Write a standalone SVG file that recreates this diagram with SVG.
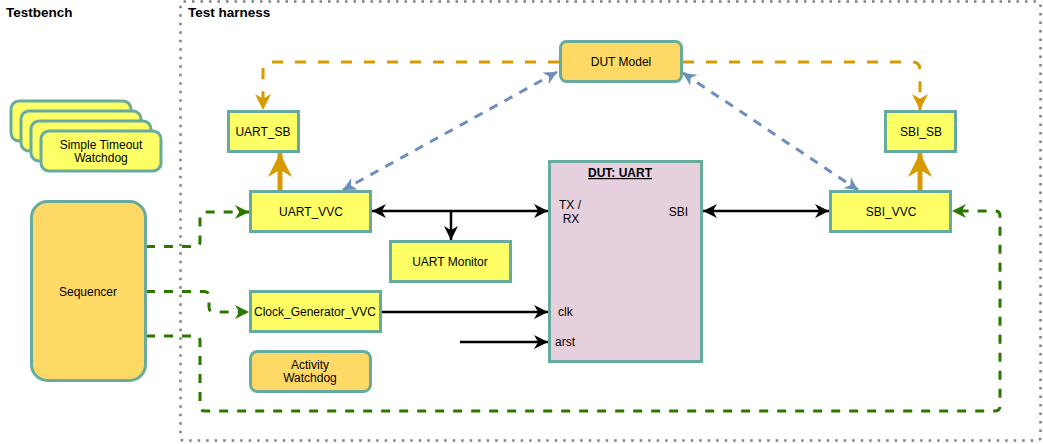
<svg xmlns="http://www.w3.org/2000/svg" width="1043" height="444" viewBox="0 0 1043 444">
<style>
text{font-family:"Liberation Sans",Arial,Helvetica,sans-serif;font-size:12px;fill:#000;text-anchor:middle}
.hdr{font-weight:bold;font-size:13.5px;text-anchor:start}
.y{fill:#FFFF66;stroke:#67AB9F;stroke-width:3}
.o{fill:#FFD966;stroke:#67AB9F;stroke-width:3}
.d{fill:#E6D0DE;stroke:#67AB9F;stroke-width:3}
.blk{fill:none;stroke:#000;stroke-width:2.5}
.grn{fill:none;stroke:#2D7600;stroke-width:3;stroke-dasharray:9 9}
.org{fill:none;stroke:#D79B00;stroke-width:3;stroke-dasharray:11 12}
.orgT{fill:none;stroke:#D79B00;stroke-width:5}
.blu{fill:none;stroke:#6C8EBF;stroke-width:3;stroke-dasharray:9 8}
</style>
<defs>
<marker id="aBlk" viewBox="0 0 10 10" refX="10" refY="5" markerUnits="userSpaceOnUse" markerWidth="15" markerHeight="14" orient="auto-start-reverse"><path d="M0,0 L10,5 L0,10 L3,5 Z" fill="#000"/></marker>
<marker id="aGrn" viewBox="0 0 10 10" refX="10" refY="5" markerUnits="userSpaceOnUse" markerWidth="15" markerHeight="14" orient="auto-start-reverse"><path d="M0,0 L10,5 L0,10 L3,5 Z" fill="#2D7600"/></marker>
<marker id="aOrg" viewBox="0 0 10 10" refX="10" refY="5" markerUnits="userSpaceOnUse" markerWidth="16" markerHeight="16" orient="auto-start-reverse"><path d="M0,0 L10,5 L0,10 L3,5 Z" fill="#D79B00"/></marker>
<marker id="aOrgT" viewBox="0 0 10 10" refX="10" refY="5" markerUnits="userSpaceOnUse" markerWidth="24" markerHeight="25" orient="auto-start-reverse"><path d="M0,0 L10,5 L0,10 L3,5 Z" fill="#D79B00"/></marker>
<marker id="aBlu" viewBox="0 0 10 10" refX="10" refY="5" markerUnits="userSpaceOnUse" markerWidth="15" markerHeight="13" orient="auto-start-reverse"><path d="M0,0 L10,5 L0,10 L3,5 Z" fill="#6C8EBF"/></marker>
</defs>
<rect width="1043" height="444" fill="#fff"/>

<g id="harness">
<rect x="180.5" y="1.5" width="860" height="439" rx="3" fill="none" stroke="#808080" stroke-width="2.5" stroke-dasharray="2.5 6"/>
<text class="hdr" x="6" y="17">Testbench</text>
<text class="hdr" x="188" y="17">Test harness</text>
</g>

<g id="connectors">
<path class="org" d="M559,62 H271 Q263,62 263,70 V110" marker-end="url(#aOrg)"/>
<path class="org" d="M683,62 H912 Q920,62 920,70 V110" marker-end="url(#aOrg)"/>
<path class="blu" d="M557,72 L343,190" marker-start="url(#aBlu)" marker-end="url(#aBlu)"/>
<path class="blu" d="M683,73 L858,190" marker-start="url(#aBlu)" marker-end="url(#aBlu)"/>
<path class="orgT" d="M280,190 V153" marker-end="url(#aOrgT)"/>
<path class="orgT" d="M920,190 V153" marker-end="url(#aOrgT)"/>
<path class="blk" d="M372,211 H548" marker-start="url(#aBlk)" marker-end="url(#aBlk)"/>
<path class="blk" d="M451,211 V240" marker-end="url(#aBlk)"/>
<path class="blk" d="M703,211 H829" marker-start="url(#aBlk)" marker-end="url(#aBlk)"/>
<path class="blk" d="M382,312 H548" marker-end="url(#aBlk)"/>
<path class="blk" d="M460,342 H548" marker-end="url(#aBlk)"/>
<path class="grn" d="M146,246.5 H195 Q200,246.5 200,241.5 V217 Q200,212 205,212 H249" marker-end="url(#aGrn)"/>
<path class="grn" d="M146,291.5 H204 Q209,291.5 209,296.5 V307 Q209,312 214,312 H249" marker-end="url(#aGrn)"/>
<path class="grn" d="M146,336 H195 Q200,336 200,341 V406 Q200,411 205,411 H995 Q1000,411 1000,406 V216 Q1000,211 995,211 H952" marker-end="url(#aGrn)"/>
</g>

<g id="timeout-watchdog">
<rect class="y" x="11" y="101" width="120" height="40" rx="8"/>
<rect class="y" x="21" y="111" width="120" height="40" rx="8"/>
<rect class="y" x="31" y="121" width="120" height="40" rx="8"/>
<rect class="y" x="41" y="131" width="120" height="40" rx="8"/>
<text x="101" y="149">Simple Timeout</text>
<text x="101" y="162">Watchdog</text>
</g>

<g id="sequencer">
<rect class="o" x="31.5" y="201.5" width="114" height="179" rx="16"/>
<text x="88" y="296">Sequencer</text>
</g>

<g id="uart-sb">
<rect class="y" x="228.5" y="111.5" width="70" height="40"/>
<text x="263" y="136">UART_SB</text>
</g>

<g id="dut-model">
<rect class="o" x="560.5" y="41.5" width="121" height="40" rx="6"/>
<text x="621" y="66">DUT Model</text>
</g>

<g id="sbi-sb">
<rect class="y" x="885.5" y="111.5" width="70" height="40"/>
<text x="921" y="136">SBI_SB</text>
</g>

<g id="uart-vvc">
<rect class="y" x="250.5" y="191.5" width="120" height="40"/>
<text x="311" y="216">UART_VVC</text>
</g>

<g id="sbi-vvc">
<rect class="y" x="830.5" y="191.5" width="120" height="40"/>
<text x="891" y="216">SBI_VVC</text>
</g>

<g id="uart-monitor">
<rect class="y" x="390.5" y="241.5" width="120" height="40"/>
<text x="450" y="266">UART Monitor</text>
</g>

<g id="clock-gen-vvc">
<rect class="y" x="250.5" y="291.5" width="130" height="40"/>
<text x="315" y="316">Clock_Generator_VVC</text>
</g>

<g id="activity-watchdog">
<rect class="o" x="250.5" y="351.5" width="120" height="40" rx="7"/>
<text x="310" y="369">Activity</text>
<text x="310" y="382">Watchdog</text>
</g>

<g id="dut-uart">
<rect class="d" x="549.5" y="161.5" width="152" height="200"/>
<text x="620" y="177" font-weight="bold" text-decoration="underline">DUT: UART</text>
<text x="570" y="209">TX /</text>
<text x="571" y="223">RX</text>
<text x="688" y="216" style="text-anchor:end">SBI</text>
<text x="558" y="316" style="text-anchor:start">clk</text>
<text x="555" y="346" style="text-anchor:start">arst</text>
</g>
</svg>
